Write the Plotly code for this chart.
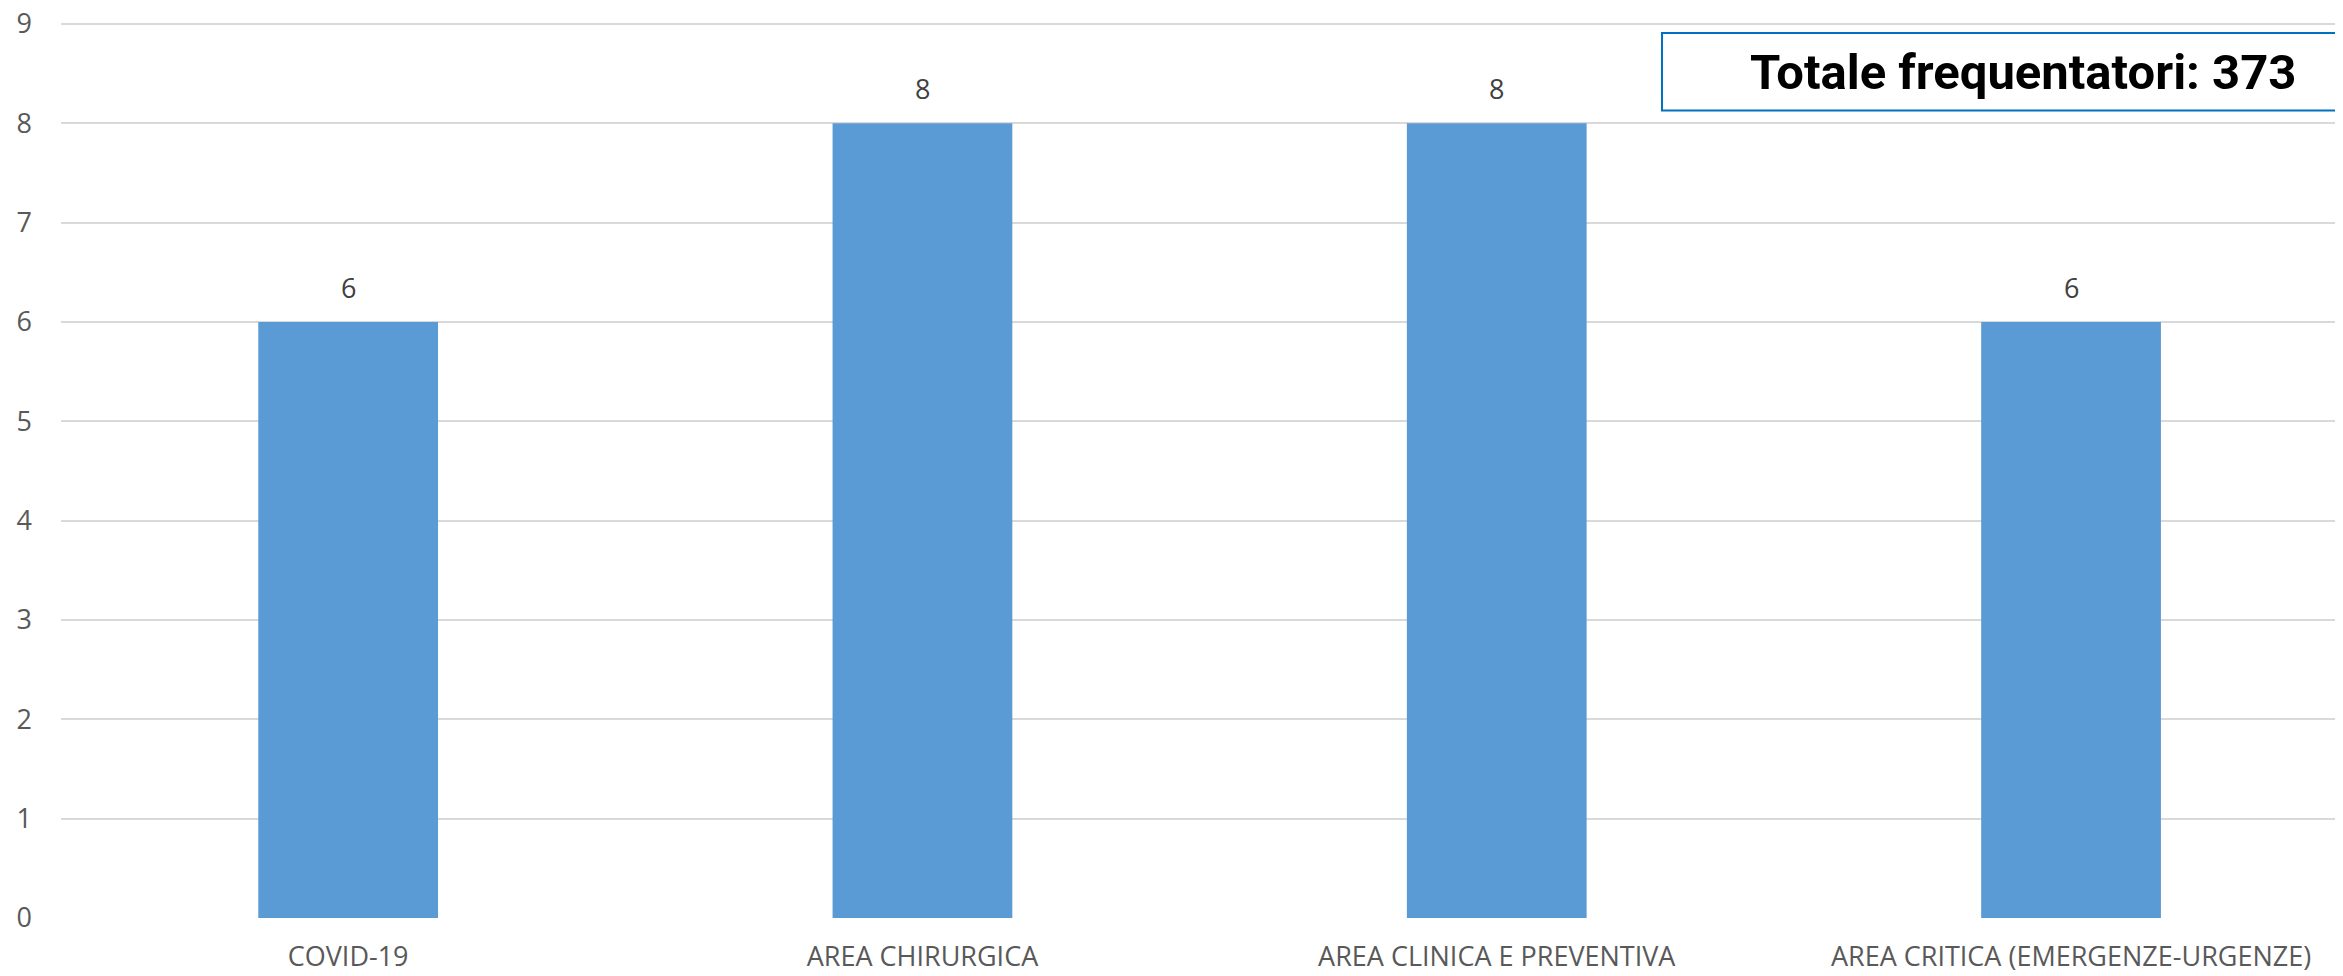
import plotly.graph_objects as go

categories = ["COVID-19", "AREA CHIRURGICA", "AREA CLINICA E PREVENTIVA", "AREA CRITICA (EMERGENZE-URGENZE)"]
values = [6, 8, 8, 6]
y_ticks = [0, 1, 2, 3, 4, 5, 6, 7, 8, 9]
box_text = "Totale frequentatori: 373"

# page has an 8px body margin; the figure fills the rest of the window
OFF = 8
W, H = 2343 - OFF, 976 - OFF
Y_TOP = 9.05                      # small headroom so the 9 gridline is drawn
UNIT = (918 - 24) / 9.0           # px per unit
L = 61 - OFF
T = int(round(24 - (Y_TOP - 9) * UNIT)) - OFF
R = 0
B = H - (918 - OFF)

fig = go.Figure()
fig.add_trace(go.Bar(
    x=categories, y=values,
    marker=dict(color="#5B9BD5", line=dict(width=0)),
    hoverinfo="x+y",
))

for c, v in zip(categories, values):
    fig.add_annotation(
        x=c, y=v, text=str(v), showarrow=False,
        yanchor="bottom", yshift=14,
        font=dict(family="Open Sans", size=27, color="#404040"),
    )

# box with total (cropped at the right edge)
pw = W - L - R
ph = H - T - B
def px(xp):
    return (xp - OFF - L) / pw
def py(yp):
    return (H - B - (yp - OFF)) / ph

fig.add_shape(
    type="rect", xref="paper", yref="paper",
    x0=px(1662), x1=1.05,
    y0=py(110.5), y1=py(33),
    line=dict(color="#0070C0", width=2), fillcolor="white", layer="above",
)
fig.add_annotation(
    xref="paper", yref="paper",
    x=px(2023), y=py(72),
    text="<b>" + box_text + "</b>", showarrow=False,
    xanchor="center", yanchor="middle",
    font=dict(family="Roboto, sans-serif", size=49, color="#000000"),
)

fig.update_layout(
    width=W, height=H,
    margin=dict(l=L, r=R, t=T, b=B, pad=0, autoexpand=False),
    paper_bgcolor="white", plot_bgcolor="white",
    bargap=0.687,
    showlegend=False,
    font=dict(family="Open Sans", color="#595959"),
    xaxis=dict(
        range=[-0.5, -0.5 + (2343 - 61) / 574.3],
        showgrid=False, showline=False, zeroline=False, automargin=False,
        tickfont=dict(family="Open Sans", size=27, color="#595959"),
        ticks="", ticklabelstandoff=20, ticklabeloverflow="allow",
    ),
    yaxis=dict(
        range=[0, Y_TOP], tickvals=y_ticks, automargin=False,
        showgrid=True, gridcolor="#D9D9D9", gridwidth=2,
        zeroline=False, showline=False,
        tickfont=dict(family="Open Sans", size=27, color="#595959"),
        ticks="", ticklabelstandoff=28, ticklabeloverflow="allow",
    ),
)

fig.write_html("out.html")
